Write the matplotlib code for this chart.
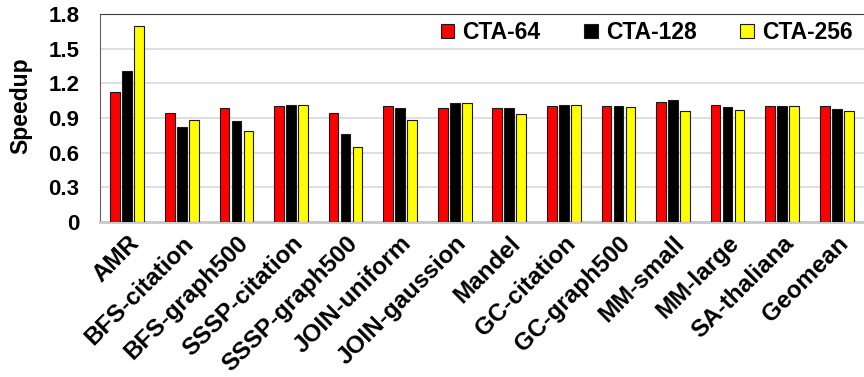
import numpy as np
import matplotlib.pyplot as plt

plt.rcParams['font.family'] = ['Liberation Sans', 'DejaVu Sans']
plt.rcParams['font.weight'] = 'bold'
plt.rcParams['axes.labelweight'] = 'bold'

benchmarks = ['AMR', 'BFS-citation', 'BFS-graph500', 'SSSP-citation', 'SSSP-graph500',
              'JOIN-uniform', 'JOIN-gaussion', 'Mandel', 'GC-citation', 'GC-graph500',
              'MM-small', 'MM-large', 'SA-thaliana', 'Geomean']
cta_64 = [1.125, 0.945, 0.99, 1.003, 0.945, 1.0, 0.99, 0.99, 1.003, 1.0, 1.04, 1.012, 1.0, 1.0]
cta_128 = [1.31, 0.826, 0.87, 1.015, 0.763, 0.99, 1.032, 0.983, 1.009, 1.0, 1.055, 0.995, 1.0, 0.974]
cta_256 = [1.70, 0.879, 0.789, 1.009, 0.648, 0.885, 1.032, 0.937, 1.009, 0.997, 0.957, 0.971, 1.0, 0.96]

series = [('CTA-64', cta_64, '#ff0000'),
          ('CTA-128', cta_128, '#000000'),
          ('CTA-256', cta_256, '#ffff00')]

fig = plt.figure(figsize=(8.64, 3.77), dpi=100)
ax = fig.add_axes([100 / 864, 1 - 222 / 377, 764 / 864, 208 / 377])

x = np.arange(len(benchmarks))
width = 0.18
step = 0.22
for i, (name, vals, color) in enumerate(series):
    ax.bar(x + (i - 1) * step, vals, width, color=color, edgecolor='#1a1a1a',
           linewidth=0.8, label=name, zorder=3)

ax.set_xlim(-0.5, len(benchmarks) - 0.5)
ax.set_ylim(0, 1.8)
ax.set_yticks(np.arange(0, 1.81, 0.3))
ax.set_yticklabels(['0', '0.3', '0.6', '0.9', '1.2', '1.5', '1.8'], fontsize=16)
ax.yaxis.grid(True, color='#d9d9d9', linewidth=1.2, zorder=0)
ax.set_axisbelow(True)

ax.set_xticks(x)
ax.set_xticklabels(benchmarks, rotation=45, ha='right', va='top',
                   rotation_mode='anchor', fontsize=17.5)
ax.tick_params(axis='both', length=0)
ax.tick_params(axis='y', pad=15)
ax.tick_params(axis='x', pad=7)

ax.set_ylabel('Speedup', fontsize=16.5)
ax.yaxis.set_label_coords(-0.089, 0.56)

ax.spines['top'].set_color('#404040')
ax.spines['left'].set_color('#606060')
ax.spines['bottom'].set_color('#c8c8c8')
ax.spines['bottom'].set_linewidth(2)
ax.spines['right'].set_visible(False)

ax.legend(loc='upper right', ncol=3, frameon=False, fontsize=16.5,
          handlelength=0.6, handleheight=0.6, handletextpad=0.35,
          columnspacing=1.9, bbox_to_anchor=(1.012, 1.065))

fig.savefig('out.png', dpi=100)
